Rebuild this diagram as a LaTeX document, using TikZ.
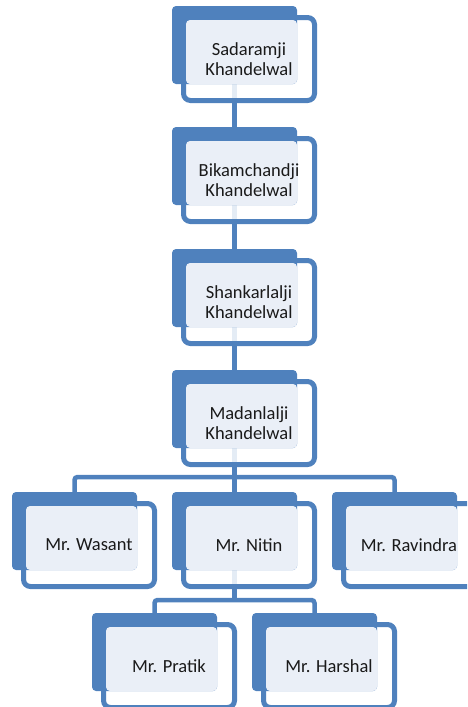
\documentclass[tikz,border=0pt]{standalone}
\usepackage{fontspec}
\setmainfont{Carlito}
\usetikzlibrary{calc}
\definecolor{accblue}{HTML}{4F81BD}
\definecolor{lightfill}{HTML}{EAEFF7}
\definecolor{txtcol}{HTML}{1A1A1A}
\pgfdeclarelayer{behind}
\pgfsetlayers{behind,main}
\tikzset{
  conn/.style={draw=accblue, line width=4.5pt, rounded corners=3pt},
  framebox/.style={draw=accblue, line width=5pt, fill=white, fill opacity=0.85, draw opacity=1,
    rounded corners=7pt, minimum width=131pt, minimum height=83pt, inner sep=0pt, outer sep=0pt},
  backbox/.style={fill=accblue, rounded corners=4pt, minimum width=125pt, minimum height=78pt,
    inner sep=0pt, outer sep=0pt, anchor=north west},
  innerbox/.style={fill=lightfill, rounded corners=4pt},
  lbl/.style={font=\fontsize{18.5}{20}\selectfont, text=txtcol, align=center, inner sep=0pt},
}
\newcommand\member[4]{%
  \node[framebox] (f#1) at (#2+77,#3+53) {};
  \node[backbox] (b#1) at (#2,#3) {};
  \path[innerbox] (#2+14,#3+14) rectangle (#2+125,#3+78);
  \node[lbl] (t#1) at (#2+77,#3+53) {#4};
}
\begin{document}
\begin{tikzpicture}[x=1pt,y=-1pt]
\useasboundingbox (0,0) rectangle (467,707);
\clip (0,0) rectangle (467,707);
\member{1}{172}{6}{Sadaramji\\Khandelwal}
\member{2}{172}{127}{Bikamchandji\\Khandelwal}
\member{3}{172}{249}{Shankarlalji\\Khandelwal}
\member{4}{172}{370}{Madanlalji\\Khandelwal}
\member{5}{12}{492}{Mr. Wasant}
\member{6}{172}{492}{Mr. Nitin}
\member{7}{332}{492}{Mr. Ravindra}
\member{8}{92}{613}{Mr. Pratik}
\member{9}{252}{613}{Mr. Harshal}
\begin{pgfonlayer}{behind}
  \draw[conn] (b1.south) -- (b2.north);
  \draw[conn] (b2.south) -- (b3.north);
  \draw[conn] (b3.south) -- (b4.north);
  \coordinate (j4) at ([yshift=-29pt]b4.south);
  \draw[conn] (b4.south) -- (j4);
  \draw[conn] (b5.north) |- (j4) -| (b7.north);
  \draw[conn] (j4) -- (b6.north);
  \coordinate (j6) at ([yshift=-30pt]b6.south);
  \draw[conn] (b6.south) -- (j6);
  \draw[conn] (b8.north) |- (j6) -| (b9.north);
\end{pgfonlayer}
\end{tikzpicture}
\end{document}
